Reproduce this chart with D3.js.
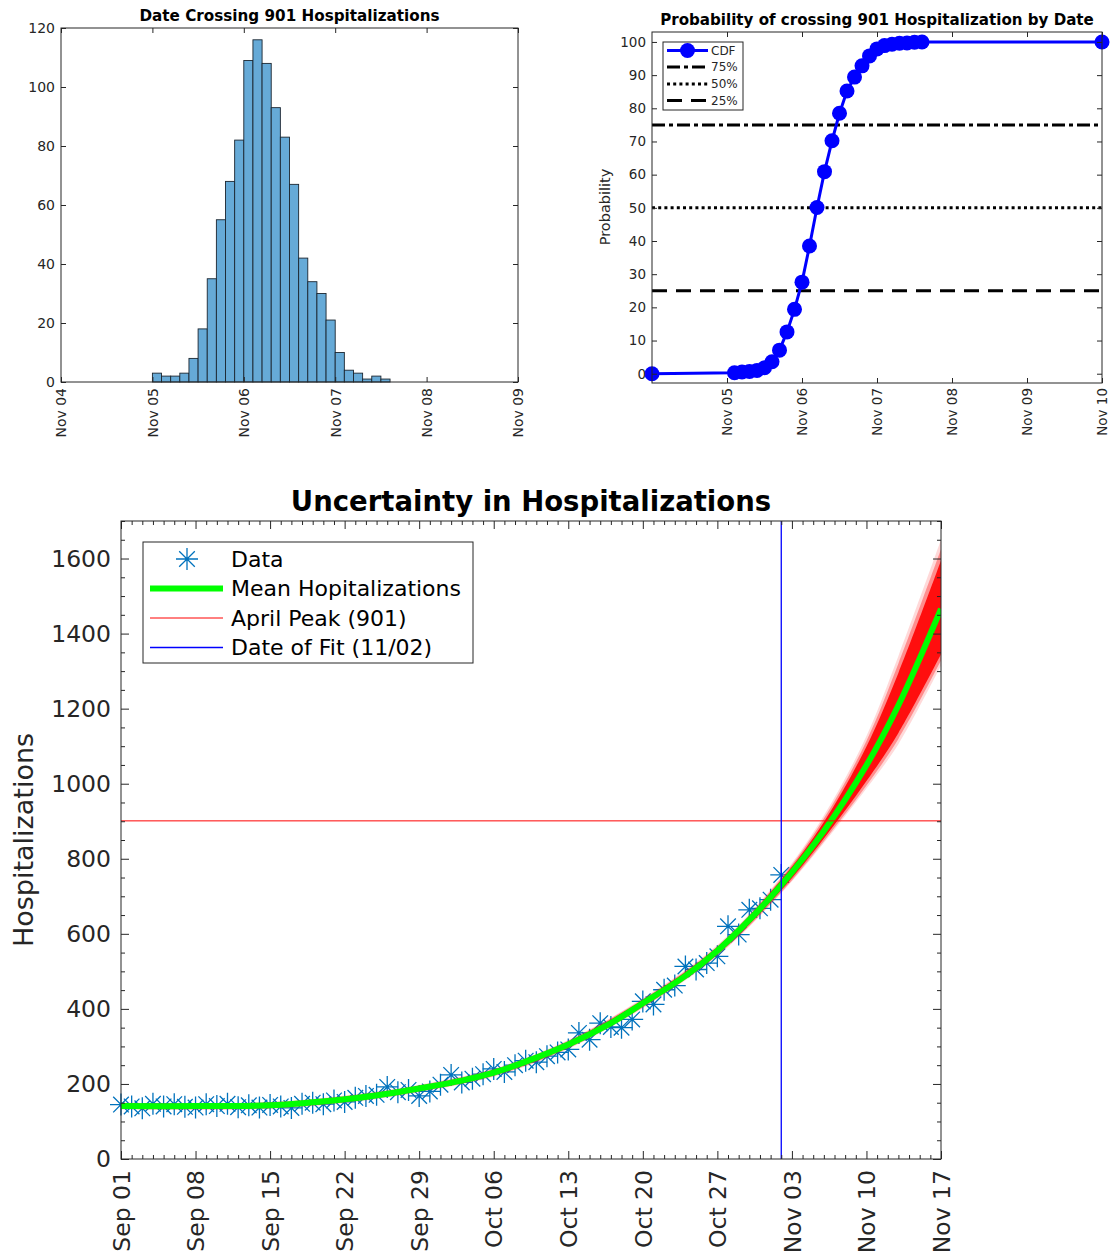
<!DOCTYPE html>
<html>
<head>
<meta charset="utf-8">
<script src="https://cdn.jsdelivr.net/npm/d3@7"></script>
<style>
  body { margin: 0; background: #fff; }
  svg { display: block; font-family: "DejaVu Sans", sans-serif; }
</style>
</head>
<body>
<svg id="fig" width="1116" height="1256"></svg>
<script>
// ---------- Crossing-date histogram (day of November, 0.1-day bins) ----------
const histBinLeft = [5.0, 5.1, 5.2, 5.3, 5.4, 5.5, 5.6, 5.7, 5.8, 5.9, 6.0, 6.1, 6.2,
                     6.3, 6.4, 6.5, 6.6, 6.7, 6.8, 6.9, 7.0, 7.1, 7.2, 7.3, 7.4, 7.5];
const histBinWidth = 0.1;
const histCounts = [3, 2, 2, 3, 8, 18, 35, 55, 68, 82, 109, 116, 108,
                    93, 83, 67, 42, 34, 30, 21, 10, 4, 3, 1, 2, 1];
const histXTicks = [4, 5, 6, 7, 8, 9];
const histYTicks = [0, 20, 40, 60, 80, 100, 120];

// ---------- Cumulative probability of crossing by date ----------
const cdfDay = [4, 5.1, 5.2, 5.3, 5.4, 5.5, 5.6, 5.7, 5.8, 5.9, 6.0, 6.1, 6.2, 6.3,
                6.4, 6.5, 6.6, 6.7, 6.8, 6.9, 7.0, 7.1, 7.2, 7.3, 7.4, 7.5, 7.6, 10];
const cdfPct = [0, 0.3, 0.5, 0.7, 1.0, 1.8, 3.6, 7.1, 12.6, 19.4, 27.6, 38.5, 50.1, 60.9,
                70.2, 78.5, 85.2, 89.4, 92.8, 95.8, 97.9, 98.9, 99.3, 99.6, 99.7, 99.9, 100, 100];
const cdfLevels = [75, 50, 25];
const cdfLevelNames = ["75%", "50%", "25%"];
const cdfXTicks = [5, 6, 7, 8, 9, 10];
const cdfYTicks = [0, 10, 20, 30, 40, 50, 60, 70, 80, 90, 100];

// ---------- Daily hospitalizations from Sep 01 ----------
const dataStart = [2020, 8, 1];
const dataValues = [145, 140, 135, 147, 140, 146, 139, 137, 146, 141, 147, 138, 143, 137,
                    144, 140, 136, 147, 150, 146, 156, 152, 163, 168, 171, 192, 178, 184,
                    168, 180, 198, 224, 204, 214, 226, 240, 232, 250, 262, 258, 274, 284,
                    292, 336, 318, 362, 352, 350, 372, 420, 412, 451, 462, 513, 505, 522,
                    540, 620, 598, 664, 668, 691, 757];

// Mean of the fitted ensemble (days since Sep 01)
const meanDays = [0, 7, 14, 18, 21, 25, 28, 32, 35, 39, 42, 46, 49, 53, 56, 59, 62, 66, 70, 73, 77];
const meanVals = [141, 141, 143, 151, 159, 174, 188, 209, 230, 270, 305, 362, 415, 488, 555, 637,
                  730, 874, 1049, 1209, 1466];

// Spread of the ensemble trajectories: outer envelope, middle and dense core
const bandDays    = [0, 14, 21, 28, 35, 42, 49, 56, 62, 66, 70, 73, 77];
const bandOuterLo = [132, 134, 149, 178, 219, 293, 402, 540, 708, 842, 987, 1105, 1315];
const bandOuterHi = [150, 152, 169, 198, 241, 317, 428, 570, 752, 915, 1127, 1340, 1650];
const bandMidLo   = [133, 135, 151, 180, 221, 295, 404, 543, 711, 847, 995, 1119, 1328];
const bandMidHi   = [149, 151, 167, 196, 239, 315, 426, 567, 748, 907, 1114, 1320, 1625];
const bandCoreLo  = [135, 137, 153, 182, 224, 298, 407, 546, 716, 854, 1007, 1135, 1345];
const bandCoreHi  = [147, 149, 165, 194, 236, 312, 423, 564, 744, 898, 1099, 1295, 1595];

const peakLevel = 901;
const fitDay = 62;          // 11/02
const lastDay = 77;         // Nov 17
const bottomYTicks = [0, 200, 400, 600, 800, 1000, 1200, 1400, 1600];

// ---------------------------------------------------------------------------
const svg = d3.select("#fig");
const AX = "#262626";
const FONT = '"DejaVu Sans", sans-serif';
const DAY = 864e5;
const novDate = d => new Date(Date.UTC(2020, 10, 1) + (d - 1) * DAY);
const t0 = Date.UTC(dataStart[0], dataStart[1], dataStart[2]);
const sepDate = d => new Date(t0 + d * DAY);
const fmtDate = d3.utcFormat("%b %d");
const smooth = d3.curveCatmullRom.alpha(0.5);

// Boxed axes with inward ticks on all four sides
function frame(o) {
  const g = svg.append("g");
  const bottom = g.append("g").attr("transform", `translate(0,${o.b})`)
    .call(d3.axisBottom(o.x).tickValues(o.xTicks).tickFormat(o.xFmt)
      .tickSizeInner(-o.tick).tickSizeOuter(0).tickPadding(0));
  bottom.selectAll("text")
    .attr("transform", "rotate(-90)").attr("text-anchor", "end")
    .attr("x", -o.xPad).attr("y", 0).attr("dy", "0.35em");
  g.append("g").attr("transform", `translate(0,${o.t})`)
    .call(d3.axisTop(o.x).tickValues(o.xTicks).tickFormat("")
      .tickSizeInner(-o.tick).tickSizeOuter(0));
  g.append("g").attr("transform", `translate(${o.l},0)`)
    .call(d3.axisLeft(o.y).tickValues(o.yTicks).tickFormat(o.yFmt)
      .tickSizeInner(-o.tick).tickSizeOuter(0).tickPadding(o.yPad));
  g.append("g").attr("transform", `translate(${o.r},0)`)
    .call(d3.axisRight(o.y).tickValues(o.yTicks).tickFormat("")
      .tickSizeInner(-o.tick).tickSizeOuter(0));
  if (o.xMinor) {
    g.append("g").attr("transform", `translate(0,${o.b})`)
      .call(d3.axisBottom(o.x).tickValues(o.xMinor).tickFormat("").tickSizeInner(-o.minor).tickSizeOuter(0));
    g.append("g").attr("transform", `translate(0,${o.t})`)
      .call(d3.axisTop(o.x).tickValues(o.xMinor).tickFormat("").tickSizeInner(-o.minor).tickSizeOuter(0));
  }
  if (o.yMinor) {
    g.append("g").attr("transform", `translate(${o.l},0)`)
      .call(d3.axisLeft(o.y).tickValues(o.yMinor).tickFormat("").tickSizeInner(-o.minor).tickSizeOuter(0));
    g.append("g").attr("transform", `translate(${o.r},0)`)
      .call(d3.axisRight(o.y).tickValues(o.yMinor).tickFormat("").tickSizeInner(-o.minor).tickSizeOuter(0));
  }
  g.selectAll(".domain").remove();
  g.selectAll("g").attr("font-family", FONT).attr("font-size", o.font);
  g.selectAll("text").attr("fill", AX);
  g.selectAll(".tick line").attr("stroke", AX).attr("stroke-width", 1);
  g.append("rect").attr("x", o.l).attr("y", o.t)
    .attr("width", o.r - o.l).attr("height", o.b - o.t)
    .attr("fill", "none").attr("stroke", AX).attr("stroke-width", 1);
  return g;
}

function title(x, y, text, size) {
  svg.append("text").attr("x", x).attr("y", y).attr("text-anchor", "middle")
    .attr("font-family", FONT).attr("font-size", size).attr("font-weight", "bold")
    .attr("fill", "#000").text(text);
}
function ylabel(x, y, text, size) {
  svg.append("text").attr("transform", `translate(${x},${y}) rotate(-90)`)
    .attr("text-anchor", "middle").attr("font-family", FONT).attr("font-size", size)
    .attr("fill", AX).text(text);
}

// ======================= Panel 1: histogram =======================
{
  const P = { l: 61, r: 518, t: 28, b: 382 };
  const x = d3.scaleUtc().domain([novDate(4), novDate(9)]).range([P.l, P.r]);
  const y = d3.scaleLinear().domain([0, 120]).range([P.b, P.t]);

  svg.append("g").selectAll("rect").data(histCounts).join("rect")
    .attr("x", (d, i) => x(novDate(histBinLeft[i])))
    .attr("width", (d, i) => x(novDate(histBinLeft[i] + histBinWidth)) - x(novDate(histBinLeft[i])))
    .attr("y", d => y(d))
    .attr("height", d => y(0) - y(d))
    .attr("fill", "rgb(102,170,215)")
    .attr("stroke", "#1b2630").attr("stroke-width", 0.9);

  frame({ ...P, x, y, xTicks: histXTicks.map(novDate), yTicks: histYTicks,
          xFmt: fmtDate, yFmt: d3.format("d"), tick: 5, font: 14, xPad: 6, yPad: 6 });
  title((P.l + P.r) / 2, 21, "Date Crossing 901 Hospitalizations", 15.2);
}

// ======================= Panel 2: CDF =======================
{
  const P = { l: 652, r: 1102, t: 32, b: 383 };
  const x = d3.scaleUtc().domain([novDate(4), novDate(10)]).range([P.l, P.r]);
  const y = d3.scaleLinear().domain([-2.8, 103]).range([P.b, P.t]);

  const styles = [
    { dash: "13,4,4,4" },
    { dash: "3,3.2" },
    { dash: "15,9" }
  ];
  const lv = svg.append("g");
  cdfLevels.forEach((v, i) => {
    lv.append("line").attr("x1", P.l).attr("x2", P.r)
      .attr("y1", y(v)).attr("y2", y(v))
      .attr("stroke", "#000").attr("stroke-width", 3)
      .attr("stroke-dasharray", styles[i].dash);
  });

  const pts = cdfDay.map((d, i) => [novDate(d), cdfPct[i]]);
  svg.append("path").datum(pts)
    .attr("d", d3.line().x(d => x(d[0])).y(d => y(d[1])))
    .attr("fill", "none").attr("stroke", "#0000ff").attr("stroke-width", 3);
  svg.append("g").selectAll("circle").data(pts).join("circle")
    .attr("cx", d => x(d[0])).attr("cy", d => y(d[1])).attr("r", 7.5)
    .attr("fill", "#0000ff");

  frame({ ...P, x, y, xTicks: cdfXTicks.map(novDate), yTicks: cdfYTicks,
          xFmt: fmtDate, yFmt: d3.format("d"), tick: 5, font: 13.5, xPad: 5, yPad: 6 });
  title((P.l + P.r) / 2, 25, "Probability of crossing 901 Hospitalization by Date", 15.1);
  ylabel(610, 207, "Probability", 14.5);

  // legend
  const L = svg.append("g");
  L.append("rect").attr("x", 663).attr("y", 42).attr("width", 80).attr("height", 68)
    .attr("fill", "#fff").attr("stroke", AX).attr("stroke-width", 1);
  const rows = [50.5, 67, 84, 100.5];
  L.append("line").attr("x1", 667).attr("x2", 708).attr("y1", rows[0]).attr("y2", rows[0])
    .attr("stroke", "#0000ff").attr("stroke-width", 3);
  L.append("circle").attr("cx", 687.5).attr("cy", rows[0]).attr("r", 7.5).attr("fill", "#0000ff");
  cdfLevelNames.forEach((n, i) => {
    L.append("line").attr("x1", 667).attr("x2", 708).attr("y1", rows[i + 1]).attr("y2", rows[i + 1])
      .attr("stroke", "#000").attr("stroke-width", 3).attr("stroke-dasharray", styles[i].dash);
  });
  ["CDF"].concat(cdfLevelNames).forEach((n, i) => {
    L.append("text").attr("x", 711).attr("y", rows[i]).attr("dy", "0.36em")
      .attr("font-family", FONT).attr("font-size", 12).attr("fill", AX).text(n);
  });
}

// ======================= Panel 3: uncertainty =======================
{
  const P = { l: 121, r: 941, t: 521, b: 1159 };
  const x = d3.scaleUtc().domain([sepDate(0), sepDate(lastDay)]).range([P.l, P.r]);
  const y = d3.scaleLinear().domain([0, 1700]).range([P.b, P.t]);

  const clipId = "clip3";
  svg.append("clipPath").attr("id", clipId).append("rect")
    .attr("x", P.l).attr("y", P.t).attr("width", P.r - P.l).attr("height", P.b - P.t);

  // observed data, asterisk markers
  const star = "M-11,0H11M0,-11V11M-7.8,-7.8L7.8,7.8M-7.8,7.8L7.8,-7.8";
  svg.append("g").selectAll("path").data(dataValues).join("path")
    .attr("transform", (d, i) => `translate(${x(sepDate(i))},${y(d)})`)
    .attr("d", star).attr("fill", "none")
    .attr("stroke", "#0072bd").attr("stroke-width", 1.3);

  // ensemble spread
  const band = (lo, hi) => d3.area()
    .x((d, i) => x(sepDate(bandDays[i])))
    .y0((d, i) => y(lo[i])).y1((d, i) => y(hi[i]))
    .curve(smooth)(bandDays);
  const cg = svg.append("g").attr("clip-path", `url(#${clipId})`);
  cg.append("path").attr("d", band(bandOuterLo, bandOuterHi))
    .attr("fill", "#ff0000").attr("fill-opacity", 0.15);
  cg.append("path").attr("d", band(bandMidLo, bandMidHi))
    .attr("fill", "#ff0000").attr("fill-opacity", 0.35);
  cg.append("path").attr("d", band(bandCoreLo, bandCoreHi))
    .attr("fill", "#ff0000").attr("fill-opacity", 0.9);

  // mean trajectory
  cg.append("path").datum(meanDays.map((d, i) => [d, meanVals[i]]))
    .attr("d", d3.line().x(d => x(sepDate(d[0]))).y(d => y(d[1])).curve(smooth))
    .attr("fill", "none").attr("stroke", "#00ff00").attr("stroke-width", 6);

  // reference lines
  cg.append("line").attr("x1", P.l).attr("x2", P.r)
    .attr("y1", y(peakLevel)).attr("y2", y(peakLevel))
    .attr("stroke", "#ff0000").attr("stroke-width", 1);
  cg.append("line").attr("x1", x(sepDate(fitDay))).attr("x2", x(sepDate(fitDay)))
    .attr("y1", P.t).attr("y2", P.b)
    .attr("stroke", "#0000ff").attr("stroke-width", 1.3);

  frame({ ...P, x, y,
          xTicks: d3.range(0, lastDay + 1, 7).map(sepDate),
          yTicks: bottomYTicks,
          xMinor: d3.range(0, lastDay + 1).filter(d => d % 7 !== 0).map(sepDate),
          yMinor: d3.range(0, 1701, 50).filter(v => v % 200 !== 0),
          xFmt: fmtDate, yFmt: d3.format("d"), tick: 8, minor: 4,
          font: 23.5, xPad: 11, yPad: 10 });
  title((P.l + P.r) / 2, 511, "Uncertainty in Hospitalizations", 27.5);
  ylabel(33, 840, "Hospitalizations", 27);

  // legend
  const L = svg.append("g");
  L.append("rect").attr("x", 143).attr("y", 542).attr("width", 330).attr("height", 121)
    .attr("fill", "#fff").attr("stroke", AX).attr("stroke-width", 1);
  const rows = [559, 588.5, 618, 647.5];
  L.append("path").attr("transform", `translate(187,${rows[0]})`).attr("d", star)
    .attr("fill", "none").attr("stroke", "#0072bd").attr("stroke-width", 1.3);
  L.append("line").attr("x1", 150).attr("x2", 223).attr("y1", rows[1]).attr("y2", rows[1])
    .attr("stroke", "#00ff00").attr("stroke-width", 6);
  L.append("line").attr("x1", 150).attr("x2", 223).attr("y1", rows[2]).attr("y2", rows[2])
    .attr("stroke", "#ff0000").attr("stroke-width", 1);
  L.append("line").attr("x1", 150).attr("x2", 223).attr("y1", rows[3]).attr("y2", rows[3])
    .attr("stroke", "#0000ff").attr("stroke-width", 1.3);
  ["Data", "Mean Hopitalizations", "April Peak (901)", "Date of Fit (11/02)"].forEach((n, i) => {
    L.append("text").attr("x", 231).attr("y", rows[i]).attr("dy", "0.36em")
      .attr("font-family", FONT).attr("font-size", 22).attr("fill", "#000").text(n);
  });
}
</script>
</body>
</html>
